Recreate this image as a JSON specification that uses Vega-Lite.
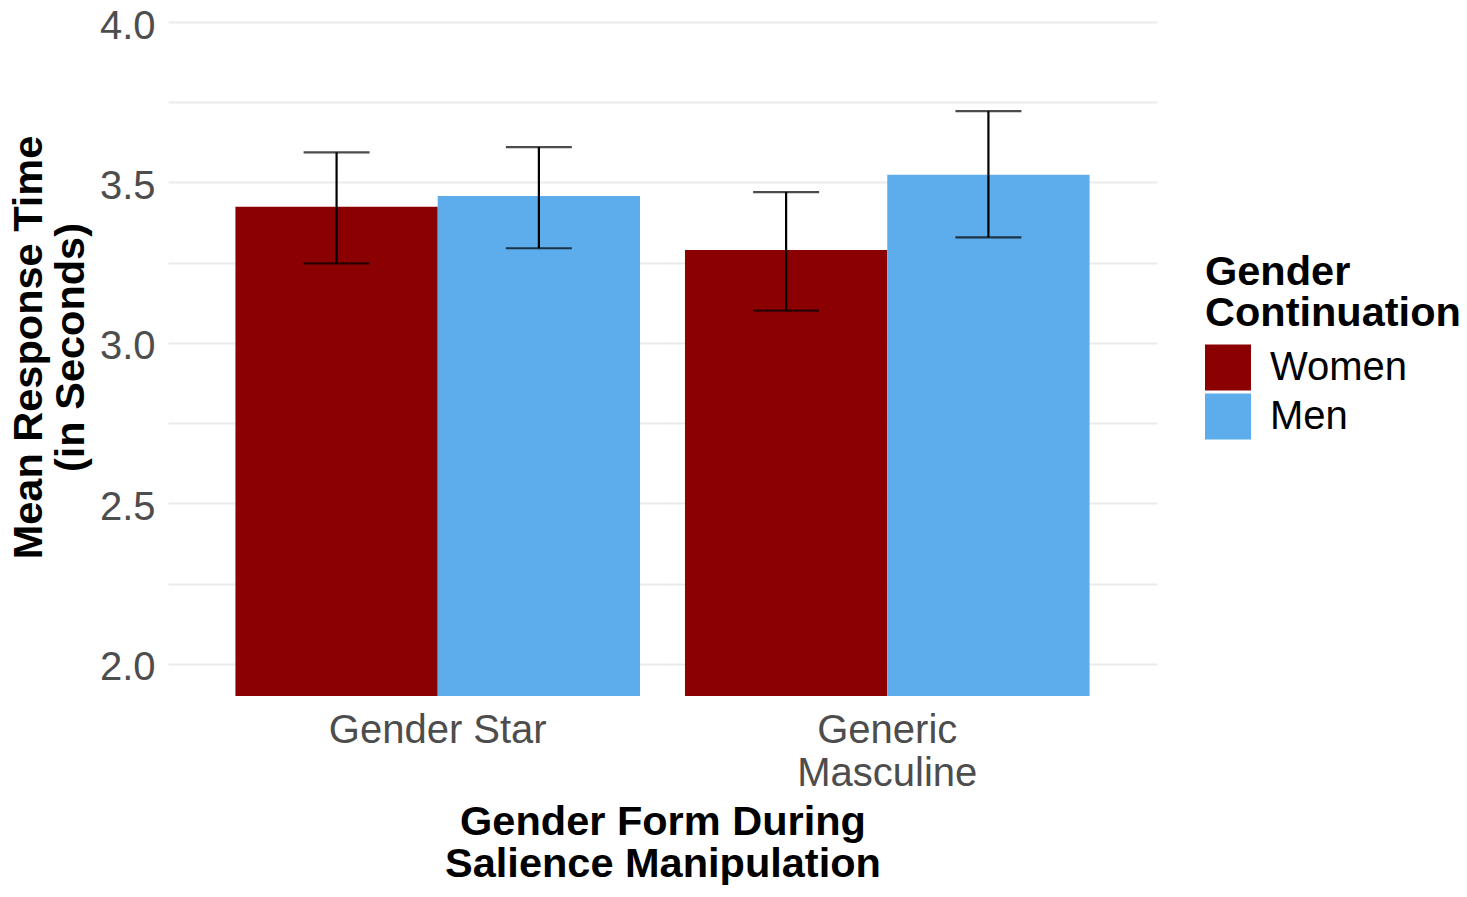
{
  "$schema": "https://vega.github.io/schema/vega-lite/v6.json",
  "width": 989,
  "height": 674,
  "autosize": {"type": "none"},
  "padding": {"left": 168, "top": 22, "right": 310, "bottom": 201},
  "background": "white",
  "config": {
    "view": {"stroke": null},
    "font": "Liberation Sans"
  },
  "data": {
    "values": [
      {"form": "Gender Star", "gender": "Women", "mean": 3.424, "lo": 3.248, "hi": 3.594},
      {"form": "Gender Star", "gender": "Men", "mean": 3.458, "lo": 3.295, "hi": 3.610},
      {"form": "Generic Masculine", "gender": "Women", "mean": 3.290, "lo": 3.101, "hi": 3.470},
      {"form": "Generic Masculine", "gender": "Men", "mean": 3.524, "lo": 3.329, "hi": 3.722}
    ]
  },
  "encoding": {
    "x": {
      "field": "form",
      "type": "nominal",
      "sort": ["Gender Star", "Generic Masculine"],
      "scale": {"paddingInner": 0.1, "paddingOuter": 0.15},
      "title": ["Gender Form During", "Salience Manipulation"],
      "axis": {
        "domain": false,
        "ticks": false,
        "tickSize": 0,
        "grid": false,
        "labelAngle": 0,
        "labelFontSize": 40,
        "labelColor": "#4D4D4D",
        "labelPadding": 46,
        "labelBaseline": "alphabetic",
        "labelLineHeight": 43,
        "labelLimit": 0,
        "labelExpr": "datum.label == 'Generic Masculine' ? ['Generic', 'Masculine'] : datum.label",
        "titleFontSize": 41.5,
        "titleFontWeight": "bold",
        "titleColor": "black",
        "titleLineHeight": 42,
        "titleLimit": 0,
        "titleBaseline": "alphabetic",
        "titleAlign": "center",
        "titleX": 494.5,
        "titleY": 138
      }
    },
    "xOffset": {
      "field": "gender",
      "type": "nominal",
      "sort": ["Women", "Men"],
      "scale": {"paddingInner": 0, "paddingOuter": 0}
    }
  },
  "layer": [
    {
      "mark": {"type": "bar", "clip": true},
      "encoding": {
        "y": {
          "field": "mean",
          "type": "quantitative",
          "scale": {"domain": [1.9, 4.0], "zero": false, "nice": false},
          "title": ["Mean Response Time", "(in Seconds)"],
          "axis": {
            "domain": false,
            "ticks": false,
            "tickSize": 0,
            "values": [2, 2.25, 2.5, 2.75, 3, 3.25, 3.5, 3.75, 4],
            "labelExpr": "datum.value % 0.5 === 0 ? format(datum.value, '.1f') : ''",
            "grid": true,
            "gridColor": "#EBEBEB",
            "gridWidth": 2,
            "labelFontSize": 40,
            "labelColor": "#4D4D4D",
            "labelPadding": 13,
            "labelBaseline": "middle",
            "labelOffset": 4,
            "titleFontSize": 41.5,
            "titleFontWeight": "bold",
            "titleColor": "black",
            "titleLineHeight": 42,
            "titleLimit": 0,
            "titleAngle": -90,
            "titleAlign": "center",
            "titleBaseline": "middle",
            "titleX": -139,
            "titleY": 325
          }
        },
        "color": {
          "field": "gender",
          "type": "nominal",
          "sort": ["Women", "Men"],
          "scale": {"domain": ["Women", "Men"], "range": ["#8B0000", "#5DADEC"]},
          "title": ["Gender", "Continuation"],
          "legend": {
            "orient": "none",
            "legendX": 1037,
            "legendY": 230,
            "padding": 0,
            "titleFontSize": 41.5,
            "titleFontWeight": "bold",
            "titleColor": "black",
            "titleLineHeight": 41,
            "titleLimit": 0,
            "titlePadding": 10,
            "symbolType": "square",
            "symbolSize": 2116,
            "symbolStrokeWidth": 0,
            "symbolOpacity": 1,
            "labelFontSize": 40,
            "labelColor": "black",
            "labelLimit": 0,
            "labelOffset": 19,
            "rowPadding": 3
          }
        }
      }
    },
    {
      "mark": {"type": "rule", "color": "black", "strokeWidth": 2.2},
      "encoding": {
        "y": {"field": "lo", "type": "quantitative"},
        "y2": {"field": "hi"}
      }
    },
    {
      "mark": {"type": "tick", "color": "black", "thickness": 2.2, "size": 66, "orient": "horizontal"},
      "encoding": {
        "y": {"field": "lo", "type": "quantitative"}
      }
    },
    {
      "mark": {"type": "tick", "color": "black", "thickness": 2.2, "size": 66, "orient": "horizontal"},
      "encoding": {
        "y": {"field": "hi", "type": "quantitative"}
      }
    }
  ]
}
